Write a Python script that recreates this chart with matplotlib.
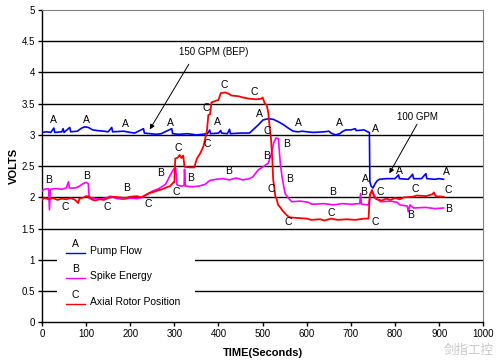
import matplotlib.pyplot as plt

plt.rcParams['font.family'] = ['Liberation Sans', 'DejaVu Sans']

# Pump Flow (A) - blue
pump_t = [0, 10, 20, 27, 29, 45, 48, 50, 63, 65, 80, 90, 97, 105, 115, 125, 140, 150, 158, 160,
          185, 200, 210, 230, 232, 245, 260, 270, 294, 296, 310, 330, 350, 375, 380, 382, 400, 405,
          407, 420, 425, 427, 450, 470, 478, 490, 501, 513, 524, 536, 548, 558, 569, 580, 590, 600,
          615, 640, 650, 655, 665, 675, 680, 688, 700, 710, 712, 730, 738, 742, 743, 746, 750, 755,
          760, 765, 780, 800, 808, 810, 830, 840, 842, 860, 870, 872, 890, 900, 910]
pump_v = [3.04, 3.05, 3.04, 3.11, 3.04, 3.05, 3.10, 3.04, 3.12, 3.05, 3.06, 3.11, 3.13, 3.12, 3.08, 3.07, 3.06, 3.05, 3.12, 3.05,
          3.06, 3.04, 3.03, 3.10, 3.03, 3.02, 3.01, 3.02, 3.10, 3.02, 3.01, 3.02, 3.00, 3.02, 3.08, 3.02, 3.03, 3.07,
          3.03, 3.02, 3.09, 3.02, 3.03, 3.03, 3.08, 3.16, 3.24, 3.26, 3.25, 3.21, 3.16, 3.11, 3.06, 3.05, 3.06, 3.05,
          3.04, 3.05, 3.06, 3.03, 3.00, 3.02, 3.05, 3.08, 3.08, 3.10, 3.07, 3.08, 3.05, 3.04, 2.25, 2.18, 2.15, 2.22,
          2.27, 2.29, 2.30, 2.30, 2.36, 2.30, 2.29, 2.37, 2.30, 2.30, 2.38, 2.30, 2.29, 2.30, 2.29]

# Spike Energy (B) - magenta
spike_t = [0, 5, 15, 17, 19, 30, 45, 55, 60, 62, 75, 85, 93, 100, 105, 107, 115, 130, 145, 155,
           170, 185, 200, 215, 227, 235, 250, 265, 280, 291, 298, 303, 306, 315, 322, 323, 325, 340,
           355, 370, 380, 395, 410, 425, 440, 455, 470, 478, 490, 501, 513, 520, 525, 530, 536, 537,
           540, 544, 548, 551, 558, 566, 585, 604, 611, 640, 660, 680, 700, 720, 722, 724, 740, 745,
           748, 756, 767, 790, 805, 811, 828, 830, 834, 842, 870, 890, 910]
spike_v = [2.10, 2.13, 2.14, 1.80, 2.13, 2.14, 2.13, 2.15, 2.25, 2.15, 2.15, 2.18, 2.22, 2.24, 2.22, 1.98, 1.99, 1.97, 1.99, 2.02,
           1.98, 1.97, 1.99, 1.98, 2.00, 2.03, 2.10, 2.14, 2.21, 2.36, 2.45, 2.47, 2.20, 2.18, 2.19, 2.45, 2.18, 2.17,
           2.18, 2.21, 2.27, 2.29, 2.30, 2.28, 2.31, 2.28, 2.30, 2.33, 2.44, 2.49, 2.55, 2.71, 2.87, 2.95, 2.94, 2.82,
           2.55, 2.33, 2.17, 2.06, 1.99, 1.93, 1.94, 1.92, 1.89, 1.90, 1.88, 1.90, 1.89, 1.90, 2.06, 1.89, 1.88, 2.07,
           2.09, 2.00, 1.93, 1.94, 1.92, 1.88, 1.86, 1.77, 1.88, 1.83, 1.84, 1.82, 1.83]

# Axial Rotor Position (C) - red
axial_t = [0, 5, 15, 25, 35, 45, 55, 65, 75, 82, 85, 95, 100, 108, 112, 120, 130, 140, 150, 160,
           175, 190, 200, 215, 225, 235, 243, 250, 262, 272, 282, 290, 298, 300, 302, 308, 312, 316,
           320, 323, 335, 345, 351, 359, 366, 371, 374, 377, 381, 384, 395, 400, 405, 415, 423, 430,
           445, 455, 470, 485, 497, 500, 505, 509, 513, 515, 519, 522, 524, 526, 529, 532, 535, 541,
           546, 554, 561, 580, 600, 610, 630, 640, 655, 670, 690, 710, 730, 740, 743, 748, 753, 758,
           770, 780, 790, 800, 811, 820, 840, 850, 870, 885, 888, 892, 910]
axial_v = [1.96, 1.99, 1.97, 1.99, 1.96, 1.98, 1.97, 1.99, 1.96, 1.91, 1.98, 2.00, 2.02, 2.01, 1.97, 1.95, 1.97, 1.96, 1.99, 2.01,
           2.00, 1.99, 2.01, 2.02, 2.00, 2.04, 2.07, 2.08, 2.11, 2.13, 2.16, 2.18, 2.24, 2.24, 2.62, 2.64, 2.68, 2.63,
           2.67, 2.49, 2.48, 2.48, 2.62, 2.71, 2.82, 2.98, 3.08, 3.32, 3.33, 3.52, 3.55, 3.56, 3.67, 3.68, 3.66, 3.63,
           3.62, 3.60, 3.58, 3.57, 3.58, 3.60, 3.50, 3.48, 3.35, 3.19, 2.94, 2.60, 2.28, 2.18, 2.01, 1.97, 1.88, 1.83,
           1.78, 1.72, 1.68, 1.67, 1.66, 1.64, 1.65, 1.63, 1.66, 1.64, 1.65, 1.64, 1.66, 1.66, 2.04, 2.12, 2.00, 1.97,
           1.95, 1.98, 1.96, 1.99, 1.97, 2.00, 2.01, 2.03, 2.02, 2.05, 2.08, 2.02, 2.01]

# curve letter labels (time, volts)
pump_marks = [(26, 3.24), (101, 3.24), (188, 3.18), (292, 3.19), (398, 3.21), (493, 3.33), (580, 3.19),
              (675, 3.19), (756, 3.09), (733, 2.29), (809, 2.42), (916, 2.41)]
spike_marks = [(14, 2.28), (100, 2.35), (191, 2.15), (268, 2.39), (337, 2.31), (423, 2.42), (508, 2.66),
               (554, 2.85), (561, 2.29), (658, 2.09), (728, 2.09), (835, 1.72), (922, 1.81)]
axial_marks = [(52, 1.85), (147, 1.85), (241, 1.89), (304, 2.09), (309, 2.79), (375, 2.85), (372, 3.43),
               (413, 3.80), (481, 3.68), (511, 3.07), (519, 2.13), (557, 1.61), (656, 1.75), (756, 1.61),
               (767, 2.09), (845, 2.13), (921, 2.12)]

fig = plt.figure(figsize=(5.01, 3.63), dpi=100)
ax = fig.add_axes([0.0838, 0.1121, 0.8808, 0.8603])

for y in [0.5, 1, 1.5, 2, 2.5, 3, 3.5, 4, 4.5]:
    ax.axhline(y, color='black', lw=1, zorder=1)

ax.plot(pump_t, pump_v, color='#0000ff', lw=1.2, zorder=3)
ax.plot(spike_t, spike_v, color='#ff00ff', lw=1.2, zorder=3)
ax.plot(axial_t, axial_v, color='#ff0000', lw=1.3, zorder=3)

for marks, letter in [(pump_marks, 'A'), (spike_marks, 'B'), (axial_marks, 'C')]:
    for t, v in marks:
        ax.text(t, v, letter, fontsize=7.5, ha='center', va='center', zorder=4)

# arrows
ax.text(389, 4.33, '150 GPM (BEP)', fontsize=7, ha='center', va='center')
ax.annotate('', xy=(241, 3.05), xytext=(336, 4.17),
            arrowprops=dict(arrowstyle='-|>', color='black', lw=0.7, mutation_scale=7))
ax.text(850, 3.29, '100 GPM', fontsize=7, ha='center', va='center')
ax.annotate('', xy=(784, 2.345), xytext=(853, 3.21),
            arrowprops=dict(arrowstyle='-|>', color='black', lw=0.7, mutation_scale=7))

# legend drawn by hand
ax.add_patch(plt.Rectangle((0.034, 0.033), 0.313, 0.24, transform=ax.transAxes,
                           facecolor='white', edgecolor='none', zorder=5))
legend_items = [('A', 'Pump Flow', '#0000ff', 0.223),
                ('B', 'Spike Energy', '#ff00ff', 0.143),
                ('C', 'Axial Rotor Position', '#ff0000', 0.060)]
for letter, name, col, yl in legend_items:
    ax.plot([0.054, 0.097], [yl, yl], color=col, lw=1, transform=ax.transAxes, zorder=6)
    ax.text(0.076, yl + 0.028, letter, fontsize=7.5, ha='center', va='center',
            transform=ax.transAxes, zorder=6)
    ax.text(0.108, yl + 0.004, name, fontsize=7.5, ha='left', va='center',
            transform=ax.transAxes, zorder=6)

ax.set_xlim(0, 1000)
ax.set_ylim(0, 5)
ax.set_xticks(range(0, 1001, 100))
ax.set_yticks([0, 0.5, 1, 1.5, 2, 2.5, 3, 3.5, 4, 4.5, 5])
ax.set_yticklabels(['0', '0.5', '1', '1.5', '2', '2.5', '3', '3.5', '4', '4.5', '5'])
ax.tick_params(labelsize=7, length=3, width=1, direction='out', pad=2)
ax.spines['top'].set_color('#808080')
ax.spines['right'].set_color('#808080')
ax.spines['left'].set_linewidth(1)
ax.spines['bottom'].set_linewidth(1)

ax.set_xlabel('TIME(Seconds)', fontsize=8, fontweight='bold', labelpad=6)
ax.set_ylabel('VOLTS', fontsize=8, fontweight='bold', labelpad=2)

fig.text(0.935, 0.035, '剑指工控', fontsize=9, color='#c8c8c8', ha='center', va='center',
         family=['Noto Sans CJK SC', 'DejaVu Sans'])

plt.savefig('out.png', dpi=100)
